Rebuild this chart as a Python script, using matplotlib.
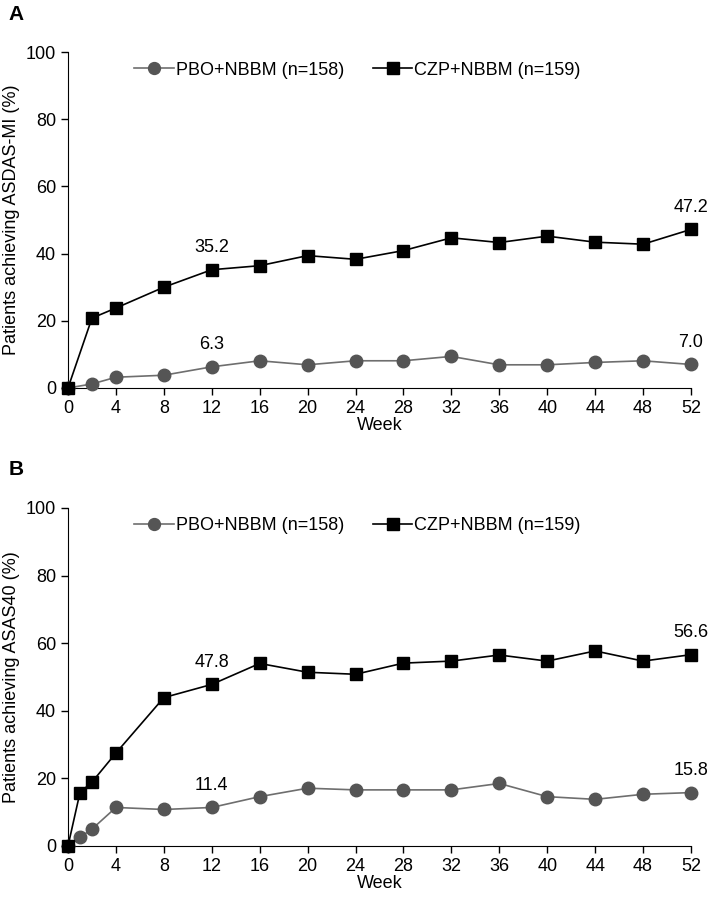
import matplotlib.pyplot as plt

plt.rcParams['font.family'] = ['Liberation Sans', 'DejaVu Sans']

weeks_a = [0, 2, 4, 8, 12, 16, 20, 24, 28, 32, 36, 40, 44, 48, 52]
pbo_a = [0, 1.2, 3.2, 3.8, 6.3, 8.1, 6.9, 8.1, 8.1, 9.4, 6.9, 6.9, 7.6, 8.1, 7.0]
czp_a = [0, 20.8, 23.8, 30.0, 35.2, 36.4, 39.4, 38.3, 40.9, 44.7, 43.3, 45.2, 43.4, 42.8, 47.2]

weeks_b = [0, 1, 2, 4, 8, 12, 16, 20, 24, 28, 32, 36, 40, 44, 48, 52]
pbo_b = [0, 2.6, 5.0, 11.4, 10.8, 11.4, 14.6, 17.1, 16.6, 16.6, 16.6, 18.5, 14.6, 13.8, 15.3, 15.8]
czp_b = [0, 15.8, 18.9, 27.5, 43.9, 47.8, 54.0, 51.4, 50.8, 54.1, 54.7, 56.5, 54.7, 57.7, 54.7, 56.6]

xticks = [0, 4, 8, 12, 16, 20, 24, 28, 32, 36, 40, 44, 48, 52]
labeled_weeks = [12, 52]

fig = plt.figure(figsize=(7.09, 9), dpi=100)

panels = [
    ('A', [0.0959, 0.5689, 0.8787, 0.3733], weeks_a, pbo_a, czp_a,
     'Patients achieving ASDAS-MI (%)', 0.995),
    ('B', [0.0959, 0.0600, 0.8787, 0.3756], weeks_b, pbo_b, czp_b,
     'Patients achieving ASAS40 (%)', 0.489),
]

for letter, rect, weeks, pbo, czp, ylabel, ly in panels:
    ax = fig.add_axes(rect)
    ax.plot(weeks, pbo, color='#6e6e6e', lw=1.2, marker='o', ms=9,
            mfc='#555555', mec='#555555', clip_on=False, zorder=3,
            label='PBO+NBBM (n=158)')
    ax.plot(weeks, czp, color='black', lw=1.2, marker='s', ms=8.5,
            mfc='black', mec='black', clip_on=False, zorder=4,
            label='CZP+NBBM (n=159)')
    # value labels above week 12 and week 52
    for series in (pbo, czp):
        for w in labeled_weeks:
            v = series[weeks.index(w)]
            ax.annotate(f'{v:.1f}', (w, v), xytext=(0, 10),
                        textcoords='offset points', ha='center', va='bottom',
                        fontsize=13)
    ax.set_xlim(0, 52)
    ax.set_ylim(0, 100)
    ax.set_xticks(xticks)
    ax.set_yticks(range(0, 101, 20))
    ax.tick_params(labelsize=13, length=5, width=1, direction='out')
    ax.spines['top'].set_visible(False)
    ax.spines['right'].set_visible(False)
    ax.set_xlabel('Week', fontsize=13, labelpad=0)
    ax.set_ylabel(ylabel, fontsize=13, labelpad=4)
    ax.legend(loc='upper left', bbox_to_anchor=(0.08, 1.02), ncol=2,
              frameon=False, fontsize=13, handlelength=2.2,
              handletextpad=0.1, columnspacing=1.6, markerscale=0.95)
    fig.text(0.012, ly, letter, fontsize=15, fontweight='bold',
             ha='left', va='top')

fig.savefig('out.png', dpi=100)
